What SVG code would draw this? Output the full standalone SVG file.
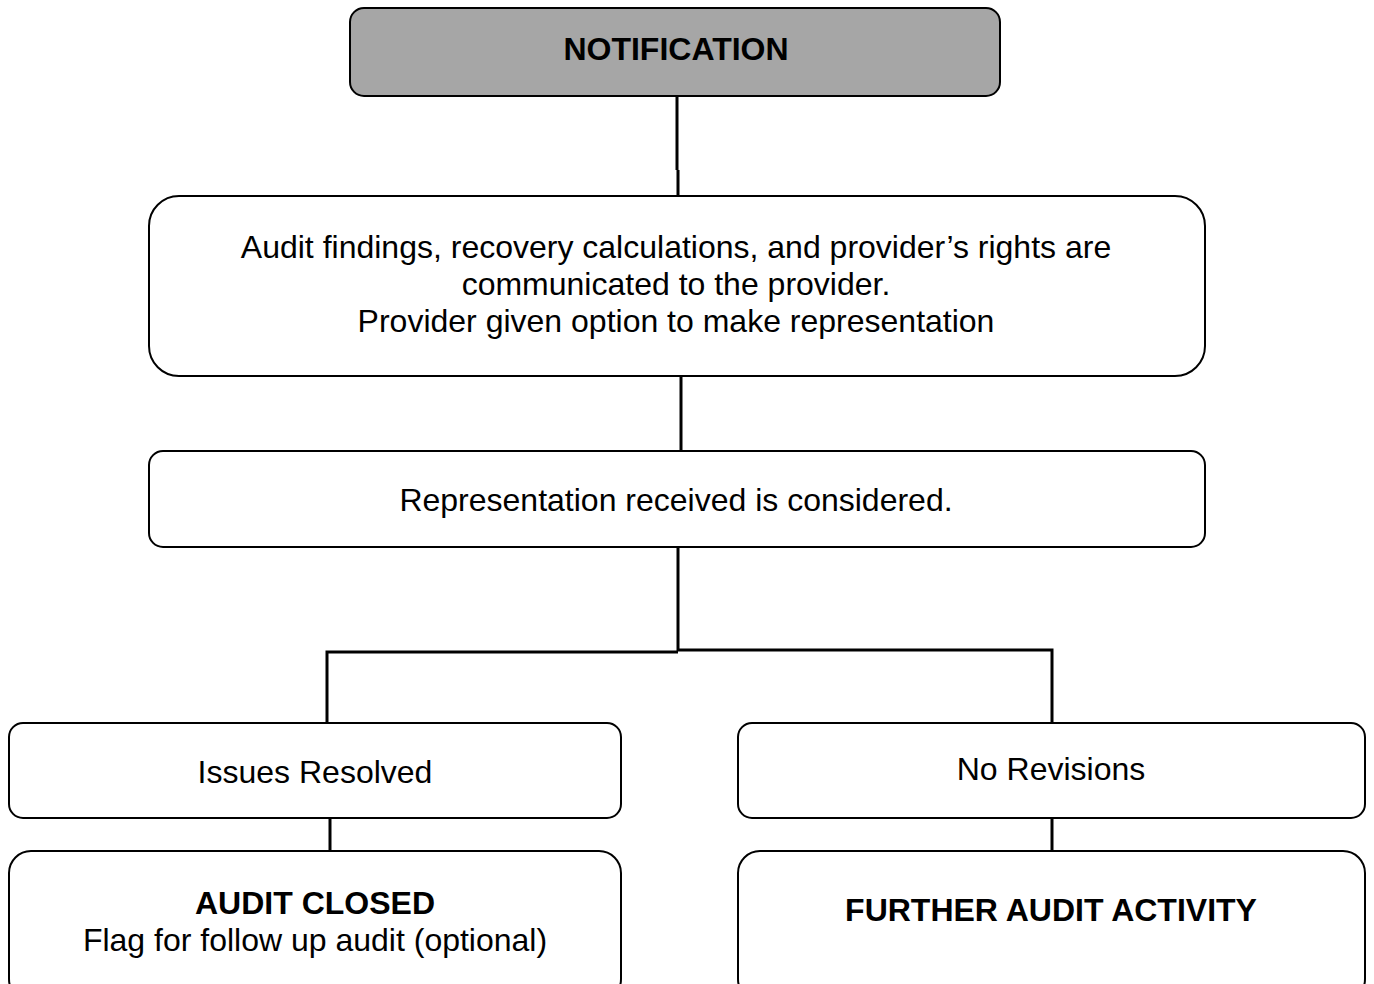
<svg xmlns="http://www.w3.org/2000/svg" width="1374" height="984" viewBox="0 0 1374 984">
  <style>
    .box { fill: #ffffff; stroke: #000000; stroke-width: 2; }
    .head { fill: #a6a6a6; }
    .link { fill: none; stroke: #000000; stroke-width: 3; }
    text { font-family: "Liberation Sans", Arial, sans-serif; font-size: 32px; fill: #000000; text-anchor: middle; }
    .b { font-weight: bold; }
  </style>
  <rect width="1374" height="984" fill="#ffffff"/>

  <g id="connectors">
    <path class="link" d="M677 96 V170 M678 170 V196"/>
    <path class="link" d="M681 376 V451"/>
    <path class="link" d="M678 547 V651"/>
    <path class="link" d="M327 723 V652 H678"/>
    <path class="link" d="M678 650 H1052 V723"/>
    <path class="link" d="M330 818 V851"/>
    <path class="link" d="M1052 818 V851"/>
  </g>

  <g id="notification">
    <rect class="box head" x="350" y="8" width="650" height="88" rx="14"/>
    <text class="b" x="676" y="60">NOTIFICATION</text>
  </g>

  <g id="communicate">
    <rect class="box" x="149" y="196" width="1056" height="180" rx="30"/>
    <text x="676" y="258">Audit findings, recovery calculations, and provider’s rights are</text>
    <text x="676" y="295">communicated to the provider.</text>
    <text x="676" y="332">Provider given option to make representation</text>
  </g>

  <g id="consider">
    <rect class="box" x="149" y="451" width="1056" height="96" rx="14"/>
    <text x="676" y="511">Representation received is considered.</text>
  </g>

  <g id="resolved">
    <rect class="box" x="9" y="723" width="612" height="95" rx="14"/>
    <text x="315" y="783">Issues Resolved</text>
  </g>

  <g id="no-revisions">
    <rect class="box" x="738" y="723" width="627" height="95" rx="14"/>
    <text x="1051" y="780">No Revisions</text>
  </g>

  <g id="closed">
    <rect class="box" x="9" y="851" width="612" height="150" rx="22"/>
    <text class="b" x="315" y="914">AUDIT CLOSED</text>
    <text x="315" y="951">Flag for follow up audit (optional)</text>
  </g>

  <g id="further">
    <rect class="box" x="738" y="851" width="627" height="150" rx="22"/>
    <text class="b" x="1051" y="921">FURTHER AUDIT ACTIVITY</text>
  </g>
</svg>
